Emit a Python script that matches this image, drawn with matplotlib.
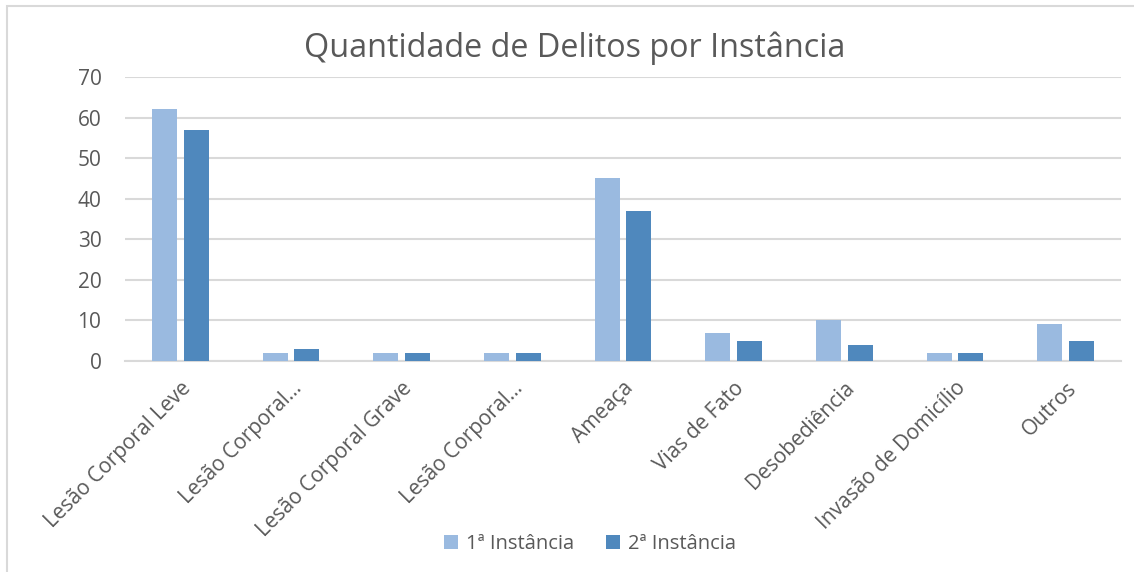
import matplotlib.pyplot as plt
from matplotlib.patches import Rectangle
import numpy as np

plt.rcParams['font.family'] = ['Open Sans', 'DejaVu Sans']

# Dados do gráfico
categorias = ['Lesão Corporal Leve', 'Lesão Corporal...', 'Lesão Corporal Grave',
              'Lesão Corporal...', 'Ameaça', 'Vias de Fato', 'Desobediência',
              'Invasão de Domicílio', 'Outros']
inst1 = [62, 2, 2, 2, 45, 7, 10, 2, 9]
inst2 = [57, 3, 2, 2, 37, 5, 4, 2, 5]
series = ['1ª Instância', '2ª Instância']

cor1 = '#9ABAE0'
cor2 = '#4F88BD'
cinza = '#595959'
grade = '#D9D9D9'

fig = plt.figure(figsize=(11.34, 5.72), dpi=100)
# moldura do gráfico
fig.patches.append(Rectangle((7 / 1134, -0.01), 1.1, (572 - 6) / 572 + 0.01,
                             transform=fig.transFigure, fill=False,
                             edgecolor=grade, linewidth=1.5))

ax = fig.add_axes([125 / 1134, (572 - 361) / 572, (1121 - 125) / 1134, (361 - 77) / 572])

x = np.arange(len(categorias))
w = 0.226
ax.bar(x - 0.142, inst1, w, color=cor1, label=series[0], zorder=3)
ax.bar(x + 0.142, inst2, w, color=cor2, label=series[1], zorder=3)

ax.set_xlim(-0.5, len(categorias) - 0.5)
ax.set_ylim(0, 70)
ax.set_yticks(range(0, 71, 10))
ax.yaxis.grid(True, color=grade, linewidth=1.5, zorder=0)
for s in ['top', 'right', 'left']:
    ax.spines[s].set_visible(False)
ax.spines['bottom'].set_color(grade)
ax.spines['bottom'].set_linewidth(1.5)
ax.tick_params(axis='both', length=0, colors=cinza, labelsize=15)
ax.tick_params(axis='y', pad=17)
ax.set_xticks(x)
ax.set_xticklabels(categorias, rotation=45, ha='right', rotation_mode='anchor')
ax.tick_params(axis='x', pad=12)

fig.text(575 / 1134, 1 - 48 / 572, 'Quantidade de Delitos por Instância',
         ha='center', va='center', fontsize=23.3, color=cinza)

fig.legend(loc='center', bbox_to_anchor=(590 / 1134, 1 - 544 / 572), ncol=2,
           frameon=False, fontsize=14.5, labelcolor=cinza, handlelength=0.7,
           handleheight=0.7, handletextpad=0.4, columnspacing=1.6)

fig.savefig('out.png', dpi=100)
